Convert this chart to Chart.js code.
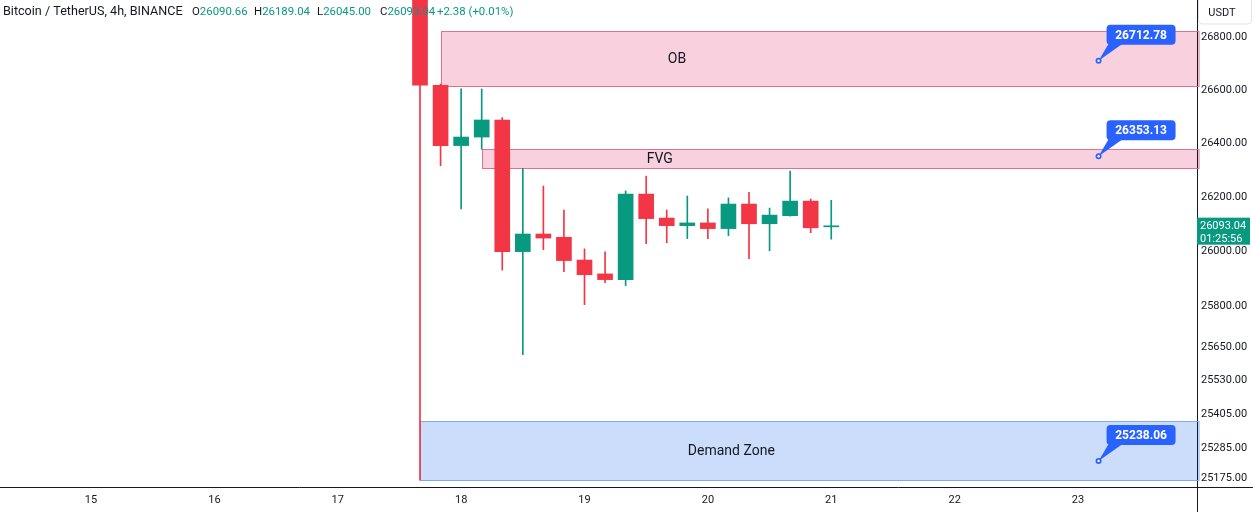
<!DOCTYPE html>
<html>
<head>
<meta charset="utf-8">
<title>Bitcoin / TetherUS 4h</title>
<script src="https://cdn.jsdelivr.net/npm/chart.js@4.4.0/dist/chart.umd.min.js"></script>
<style>
  html, body { margin: 0; padding: 0; background: #fff; }
  #wrap { width: 1253px; height: 512px; position: relative; }
</style>
</head>
<body>
<div id="wrap"><canvas id="btcChart"></canvas></div>
<script>
// 4h candles, time written as "day hh:mm"
const times  = ['17 16:00', '17 20:00', '18 00:00', '18 04:00', '18 08:00', '18 12:00', '18 16:00',
                '18 20:00', '19 00:00', '19 04:00', '19 08:00', '19 12:00', '19 16:00', '19 20:00',
                '20 00:00', '20 04:00', '20 08:00', '20 12:00', '20 16:00', '20 20:00', '21 00:00'];
const opens  = [28480, 26620, 26393, 26425, 26489, 25999, 26064, 26052, 25968, 25917, 25896,
                26212, 26123, 26095, 26105, 26084, 26175, 26102, 26132, 26186, 26090.66];
const highs  = [28520, 26625, 26606, 26606, 26498, 26308, 26242, 26153, 26009, 25998, 26224,
                26279, 26153, 26205, 26157, 26198, 26219, 26160, 26298, 26194, 26189.04];
const lows   = [25170, 26318, 26157, 26379, 25931, 25622, 26006, 25925, 25804, 25885, 25874,
                26028, 26032, 26047, 26047, 26058, 25973, 26002, 26130, 26069, 26045.00];
const closes = [26620, 26393, 26425, 26489, 25999, 26064, 26049, 25966, 25914, 25896, 26212,
                26121, 26095, 26105, 26084, 26175, 26102, 26134, 26186, 26087, 26093.04];

// axis ticks
const dayTicks   = [15, 16, 17, 18, 19, 20, 21, 22, 23];
const priceTicks = [26800, 26600, 26400, 26200, 26000, 25800, 25650, 25530, 25405, 25285, 25175];

// drawn zones
const zoneNames  = ['OB', 'FVG', 'Demand Zone'];
const zoneStart  = ['17 20:00', '18 04:00', '17 16:00'];
const zoneTop    = [26825, 26379, 25382];
const zoneBottom = [26618, 26308, 25170];

// price callouts
const calloutTime   = '23 04:00';
const calloutValues = [26712.78, 26353.13, 25238.06];

const GREEN = '#089981';
const RED = '#F23645';
const INK = '#131722';

function dayOf(s) {
  const [d, hm] = s.split(' ');
  const [h, m] = hm.split(':').map(Number);
  return Number(d) + (h + m / 60) / 24;
}

const colors = closes.map((c, i) => (c >= opens[i] ? GREEN : RED));

const overlay = {
  id: 'overlay',
  beforeDatasetsDraw(chart) {
    const { ctx, chartArea } = chart;
    const xs = chart.scales.x, ys = chart.scales.y;
    const textAt = [19.75, 19.61, 20.19]; // label x, in days
    ctx.save();
    zoneNames.forEach((name, i) => {
      const x0 = Math.round(xs.getPixelForValue(dayOf(zoneStart[i]))) + 0.5;
      const yt = Math.round(ys.getPixelForValue(zoneTop[i])) + 0.5;
      const yb = Math.round(ys.getPixelForValue(zoneBottom[i])) + 0.5;
      const demand = name === 'Demand Zone';
      ctx.fillStyle = demand ? '#cbddfa' : '#f9d0de';
      ctx.strokeStyle = demand ? '#7fa8f5' : '#dc7196';
      ctx.lineWidth = 1;
      ctx.fillRect(x0, yt, chartArea.right - x0, yb - yt);
      ctx.strokeRect(x0, yt, chartArea.right - x0 + 2, yb - yt);
      ctx.fillStyle = INK;
      ctx.font = '14px Roboto';
      ctx.textAlign = 'center';
      ctx.textBaseline = 'middle';
      ctx.fillText(name, xs.getPixelForValue(textAt[i]), (yt + yb) / 2);
    });
    ctx.restore();
  },
  afterDraw(chart) {
    const { ctx, chartArea } = chart;
    const xs = chart.scales.x, ys = chart.scales.y;
    ctx.save();

    // header
    ctx.textBaseline = 'middle';
    ctx.textAlign = 'left';
    ctx.font = '12.6px Roboto';
    ctx.fillStyle = INK;
    ctx.fillText('Bitcoin / TetherUS, 4h, BINANCE', 3, 12);
    ctx.font = '11.4px Roboto';
    const last = closes.length - 1;
    const ohlc = [['O', opens[last], 192], ['H', highs[last], 254], ['L', lows[last], 317], ['C', closes[last], 380]];
    ohlc.forEach(([k, v, x]) => {
      ctx.fillStyle = INK;
      ctx.fillText(k, x, 12);
      ctx.fillStyle = GREEN;
      ctx.fillText(v.toFixed(2), x + ctx.measureText(k).width, 12);
    });
    const chg = closes[last] - opens[last];
    ctx.fillText('+' + chg.toFixed(2) + ' (+' + (chg / opens[last] * 100).toFixed(2) + '%)', 437, 12);

    // callouts
    const cx = xs.getPixelForValue(dayOf(calloutTime));
    calloutValues.forEach(v => {
      const cy = ys.getPixelForValue(v);
      const bx = cx + 8, by = cy - 36, bw = 69, bh = 20;
      ctx.fillStyle = '#2962FF';
      ctx.beginPath();
      ctx.moveTo(cx, cy);
      ctx.lineTo(bx + 2, by + bh - 1);
      ctx.lineTo(bx + 16, by + bh - 1);
      ctx.closePath();
      ctx.fill();
      ctx.beginPath();
      ctx.roundRect(bx, by, bw, bh, 4);
      ctx.fill();
      ctx.beginPath();
      ctx.arc(cx, cy, 3, 0, Math.PI * 2);
      ctx.fill();
      ctx.fillStyle = '#ffffff';
      ctx.beginPath();
      ctx.arc(cx, cy, 1.2, 0, Math.PI * 2);
      ctx.fill();
      ctx.font = 'bold 12px Roboto';
      ctx.textAlign = 'center';
      ctx.fillText(v.toFixed(2), bx + bw / 2, by + bh / 2 + 1);
    });

    // axis line extensions
    ctx.strokeStyle = INK;
    ctx.lineWidth = 1;
    ctx.beginPath();
    ctx.moveTo(chartArea.right, chartArea.bottom + 0.5);
    ctx.lineTo(chart.width, chartArea.bottom + 0.5);
    ctx.moveTo(chartArea.right + 0.5, chartArea.bottom);
    ctx.lineTo(chartArea.right + 0.5, chart.height);
    ctx.stroke();

    // currency box
    ctx.strokeStyle = '#e0e3eb';
    ctx.beginPath();
    ctx.roundRect(chartArea.right + 1.5, -4, 53, 28, 4);
    ctx.stroke();
    ctx.fillStyle = INK;
    ctx.font = '11px Roboto';
    ctx.textAlign = 'center';
    ctx.fillText('USDT', chartArea.right + 25, 13);

    // last price label
    const py = ys.getPixelForValue(closes[last]);
    ctx.fillStyle = GREEN;
    ctx.fillRect(chartArea.right, py - 8.5, 53, 27);
    ctx.fillStyle = '#ffffff';
    ctx.font = '11px Roboto';
    ctx.textAlign = 'left';
    ctx.fillText(closes[last].toFixed(2), chartArea.right + 3, py);
    ctx.fillText('01:25:56', chartArea.right + 3, py + 13);
    ctx.restore();
  }
};

const ctx = document.getElementById('btcChart').getContext('2d');
const btcChart = new Chart(ctx, {
  type: 'bar',
  data: {
    datasets: [{
      label: 'wick',
      data: times.map((t, i) => ({ x: dayOf(t), y: [lows[i], highs[i]] })),
      backgroundColor: colors,
      barThickness: 1,
      grouped: false,
      borderWidth: 0,
      order: 2
    }, {
      label: 'body',
      data: times.map((t, i) => ({ x: dayOf(t), y: [opens[i], closes[i]] })),
      backgroundColor: colors,
      barThickness: 15,
      minBarLength: 1,
      grouped: false,
      borderWidth: 0,
      order: 1
    }]
  },
  options: {
    responsive: true,
    maintainAspectRatio: false,
    animation: false,
    events: [],
    layout: { padding: 0 },
    plugins: { legend: { display: false }, tooltip: { enabled: false } },
    scales: {
      x: {
        type: 'linear',
        offset: false,
        min: 14.2624,
        max: 23.9645,
        grid: { display: false, drawTicks: false, offset: false },
        border: { display: true, color: INK, width: 1 },
        afterBuildTicks: s => { s.ticks = dayTicks.map(v => ({ value: v })); },
        afterFit: s => { s.height = 25; s.paddingLeft = 0; s.paddingRight = 0; },
        ticks: {
          autoSkip: false,
          maxRotation: 0,
          padding: 7,
          color: INK,
          font: { family: 'Roboto', size: 11 },
          callback: v => String(v)
        }
      },
      y: {
        type: 'logarithmic',
        position: 'right',
        min: 25145.3,
        max: 26943.7,
        grid: { display: false, drawTicks: false },
        border: { display: true, color: INK, width: 1 },
        afterBuildTicks: s => { s.ticks = priceTicks.map(v => ({ value: v })); },
        afterFit: s => { s.width = 56; s.paddingTop = 0; s.paddingBottom = 0; },
        ticks: {
          autoSkip: false,
          padding: 4,
          color: INK,
          font: { family: 'Roboto', size: 11 },
          callback: v => Number(v).toFixed(2)
        }
      }
    }
  },
  plugins: [overlay]
});
</script>
</body>
</html>
